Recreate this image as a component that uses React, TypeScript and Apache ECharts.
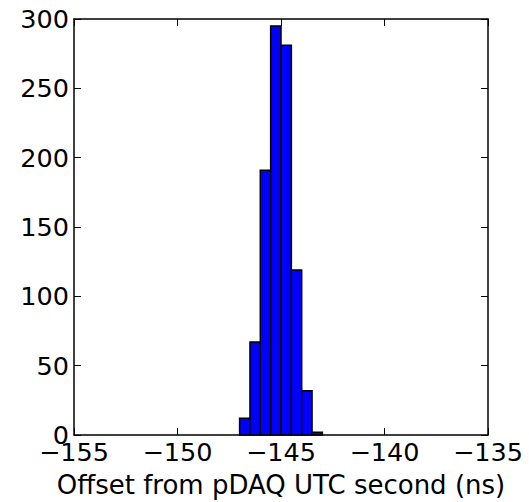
import React, { useEffect, useRef } from "react";
import * as echarts from "echarts";

const binEdges = [-147, -146.5, -146, -145.5, -145, -144.5, -144, -143.5, -143];
const counts = [12, 67, 191, 295, 281, 119, 32, 2];
const xTicks = [-155, -150, -145, -140, -135];
const yTicks = [0, 50, 100, 150, 200, 250, 300];
const xTitle = "Offset from pDAQ UTC second (ns)";

const FONT = "DejaVu Sans";
const FS = 25.5;

export default function App() {
  const ref = useRef<HTMLDivElement>(null);
  useEffect(() => {
    if (!ref.current) return;
    const chart = echarts.init(ref.current, null, { renderer: "svg" });
    const data = counts.map((c, i) => [binEdges[i], binEdges[i + 1], c]);
    const fmt = (v: number) => String(v).replace("-", "\u2212");
    const axisLine = { show: true, onZero: false, lineStyle: { color: "#000", width: 1.5 } };
    const tick = { show: true, inside: true, length: 7, lineStyle: { color: "#000", width: 1 } };
    chart.setOption({
      animation: false,
      grid: {
        left: 74,
        right: 41,
        top: 19,
        bottom: 67,
        containLabel: false,
        outerBoundsMode: "none",
      },
      xAxis: [
        {
          type: "value",
          min: xTicks[0],
          max: xTicks[xTicks.length - 1],
          interval: 5,
          position: "bottom",
          axisLine,
          axisTick: tick,
          splitLine: { show: false },
          axisLabel: { formatter: fmt, color: "#000", fontFamily: FONT, fontSize: FS, margin: 4 },
          name: xTitle,
          nameLocation: "middle",
          nameGap: 37,
          nameTextStyle: { color: "#000", fontFamily: FONT, fontSize: 26 },
        },
        {
          type: "value",
          min: xTicks[0],
          max: xTicks[xTicks.length - 1],
          interval: 5,
          position: "top",
          axisLine,
          axisTick: tick,
          splitLine: { show: false },
          axisLabel: { show: false },
        },
      ],
      yAxis: [
        {
          type: "value",
          min: yTicks[0],
          max: yTicks[yTicks.length - 1],
          interval: 50,
          position: "left",
          axisLine,
          axisTick: tick,
          splitLine: { show: false },
          axisLabel: { color: "#000", fontFamily: FONT, fontSize: FS, margin: 5 },
        },
        {
          type: "value",
          min: yTicks[0],
          max: yTicks[yTicks.length - 1],
          interval: 50,
          position: "right",
          axisLine,
          axisTick: tick,
          splitLine: { show: false },
          axisLabel: { show: false },
        },
      ],
      series: [
        {
          type: "custom",
          xAxisIndex: 0,
          yAxisIndex: 0,
          data,
          renderItem: (params: any, api: any) => {
            const p0 = api.coord([api.value(0), 0]);
            const p1 = api.coord([api.value(1), api.value(2)]);
            return {
              type: "rect",
              shape: { x: p0[0], y: p1[1], width: p1[0] - p0[0], height: p0[1] - p1[1] },
              style: { fill: "#0000ff", stroke: "#000", lineWidth: 1.5 },
            };
          },
        },
      ],
    });
    return () => chart.dispose();
  }, []);
  return <div ref={ref} style={{ width: 529, height: 502, position: "absolute", left: 0, top: 0 }} />;
}
